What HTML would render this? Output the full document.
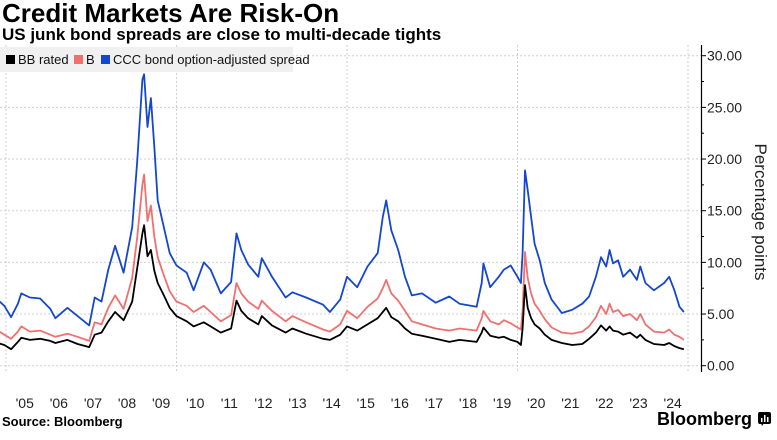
<!DOCTYPE html>
<html><head><meta charset="utf-8"><style>
body{margin:0;width:777px;height:435px;background:#fff;overflow:hidden;font-family:"Liberation Sans",sans-serif;}
</style></head><body>
<svg width="777" height="435" xmlns="http://www.w3.org/2000/svg">
<text x="2" y="22" font-size="26" font-weight="bold" fill="#000">Credit Markets Are Risk-On</text>
<text x="2" y="40" font-size="17" font-weight="bold" fill="#000">US junk bond spreads are close to multi-decade tights</text>
<g id="grid"></g>
<g id="series"></g>
<g id="axis"></g>
<g id="xaxis"></g>
<g>
<rect x="0" y="47" width="293" height="25" fill="#f0f0f0"/>
<rect x="6" y="55" width="9" height="9" fill="#000"/>
<text x="18" y="64" font-size="13" fill="#111">BB rated</text>
<rect x="74" y="55" width="9" height="9" fill="#f07070"/>
<text x="86" y="64" font-size="13" fill="#111">B</text>
<rect x="101" y="55" width="9" height="9" fill="#1446d0"/>
<text x="113" y="64" font-size="13" fill="#111">CCC bond option-adjusted spread</text>
</g>
<text transform="translate(755,212) rotate(90)" text-anchor="middle" font-size="17" fill="#222">Percentage points</text>
<text x="2" y="426" font-size="13" font-weight="bold" fill="#000">Source: Bloomberg</text>
<text x="752" y="425" text-anchor="end" font-size="18" font-weight="bold" fill="#000">Bloomberg</text>
<g><rect x="758" y="412" width="13" height="12" rx="2" fill="#000"/><path d="M762 426 l2 -3 h-3z" fill="#000"/><rect x="761" y="418" width="1.5" height="4" fill="#fff"/><rect x="764" y="415" width="1.5" height="7" fill="#fff"/><rect x="767" y="417" width="1.5" height="5" fill="#fff"/></g>
</svg>
<script>
const dates=[2004.75,2004.95,2005.15,2005.35,2005.45,2005.7,2006.0,2006.3,2006.45,2006.8,2007.1,2007.44,2007.6,2007.8,2008.0,2008.2,2008.45,2008.7,2008.85,2009.0,2009.05,2009.15,2009.25,2009.35,2009.45,2009.6,2009.8,2010.0,2010.3,2010.5,2010.8,2011.0,2011.3,2011.6,2011.76,2011.9,2012.1,2012.4,2012.5,2012.8,2013.2,2013.4,2013.8,2014.3,2014.5,2014.8,2015.0,2015.3,2015.6,2015.9,2016.05,2016.15,2016.3,2016.5,2016.7,2016.9,2017.2,2017.6,2018.0,2018.3,2018.8,2018.95,2019.0,2019.2,2019.45,2019.6,2019.8,2020.0,2020.1,2020.15,2020.22,2020.3,2020.4,2020.5,2020.65,2020.8,2021.0,2021.3,2021.6,2021.9,2022.1,2022.3,2022.45,2022.6,2022.7,2022.8,2022.95,2023.1,2023.3,2023.5,2023.6,2023.75,2024.0,2024.3,2024.45,2024.6,2024.75,2024.88];
const ccc=[6.4,5.8,4.7,6.0,7.0,6.6,6.5,5.5,4.6,5.6,4.8,3.9,6.6,6.2,9.3,11.6,9.0,13.4,19.9,27.7,28.2,23.1,25.9,21.2,16.0,13.8,10.9,9.7,9.0,7.3,10.0,9.3,7.0,8.1,12.8,11.2,9.8,8.6,10.4,8.6,6.6,7.1,6.6,5.9,5.2,6.4,8.6,7.6,9.6,10.9,14.4,16.0,13.1,11.2,8.6,6.8,7.0,6.1,6.7,6.0,5.7,8.0,9.9,7.6,8.6,9.3,9.7,8.6,8.0,10.9,18.9,17.0,14.4,11.8,10.2,8.0,6.4,5.1,5.4,6.0,6.7,8.6,10.5,9.6,11.2,9.9,10.2,8.6,9.3,8.3,9.6,8.0,7.3,8.0,8.6,7.3,5.7,5.2];
const bRated=[3.4,3.0,2.6,3.3,3.8,3.3,3.4,3.0,2.8,3.1,2.8,2.4,4.2,4.0,5.6,6.8,5.5,8.5,12.5,17.5,18.5,14.0,15.5,12.5,10.5,9.0,7.2,6.2,5.8,5.2,5.8,5.2,4.3,4.9,8.0,7.0,6.2,5.5,6.3,5.3,4.3,4.8,4.2,3.5,3.3,4.0,5.3,4.6,5.7,6.5,7.5,8.3,7.0,6.3,5.3,4.3,4.0,3.6,3.4,3.6,3.4,4.6,5.3,4.3,4.0,4.4,4.1,3.7,3.5,5.3,11.0,8.5,7.0,6.0,5.3,4.5,3.7,3.2,3.1,3.3,3.8,4.7,5.8,5.0,6.0,5.2,5.4,4.8,5.0,4.4,5.0,4.0,3.3,3.2,3.5,3.0,2.8,2.5];
const bbRated=[2.2,2.0,1.6,2.3,2.7,2.5,2.6,2.4,2.2,2.5,2.1,1.8,3.0,3.2,4.3,5.2,4.4,6.2,9.5,12.8,13.6,10.6,11.2,9.2,8.0,7.0,5.6,4.8,4.3,3.8,4.2,3.8,3.2,3.6,6.3,5.3,4.6,4.0,4.8,3.9,3.2,3.6,3.1,2.6,2.5,3.0,3.8,3.4,4.0,4.6,5.2,5.6,4.7,4.3,3.6,3.1,2.9,2.6,2.3,2.5,2.3,3.2,3.7,2.9,2.7,2.8,2.5,2.3,2.0,3.6,7.8,5.6,4.6,4.0,3.6,3.0,2.5,2.2,2.0,2.1,2.6,3.2,3.9,3.4,3.8,3.4,3.3,3.0,3.2,2.7,3.0,2.5,2.1,2.0,2.2,1.9,1.7,1.6];
const yTicks=[0,5,10,15,20,25,30];
const yTickLabels=["0.00","5.00","10.00","15.00","20.00","25.00","30.00"];
const xYears=[2005,2006,2007,2008,2009,2010,2011,2012,2013,2014,2015,2016,2017,2018,2019,2020,2021,2022,2023,2024];
const xLabels=["'05","'06","'07","'08","'09","'10","'11","'12","'13","'14","'15","'16","'17","'18","'19","'20","'21","'22","'23","'24"];
const NS="http://www.w3.org/2000/svg";
function xS(t){return 6+(t-2005)*34.1;}
function yS(v){return 365.7-v*10.333;}
function mk(tag,attrs,parent){const e=document.createElementNS(NS,tag);for(const k in attrs)e.setAttribute(k,attrs[k]);parent.appendChild(e);return e;}
const grid=document.getElementById('grid'),ax=document.getElementById('axis'),xa=document.getElementById('xaxis'),ser=document.getElementById('series');
yTicks.forEach((v,i)=>{
  const g=mk('line',{x1:0,x2:701,y1:yS(v),y2:yS(v),stroke:'#cfcfcf','stroke-dasharray':'2,2','stroke-width':1},grid);
  
  
  const t=mk('line',{x1:701,x2:706,y1:yS(v),y2:yS(v),stroke:'#000'},ax);
  
  
  const l=mk('text',{x:707,y:yS(v)+5,'font-size':14,fill:'#222'},ax);
  l.textContent=yTickLabels[i];
  
  
  if(v<30){const m=mk('line',{x1:701,x2:704,y1:yS(v+2.5),y2:yS(v+2.5),stroke:'#000'},ax);
  
  }
});
const axl=mk('line',{x1:701.5,x2:701.5,y1:45,y2:372,stroke:'#000','stroke-width':1.2},ax);


[2005,2010,2015,2020,2025].forEach(y=>{
  const g=mk('line',{x1:xS(y),x2:xS(y),y1:45,y2:372,stroke:'#cfcfcf','stroke-dasharray':'2,2'},grid);
  
  
});
xYears.forEach((y,i)=>{
  const t=mk('text',{x:xS(y+0.55),y:408,'font-size':14,fill:'#222','text-anchor':'middle'},xa);
  t.textContent=xLabels[i];
  
  
});
function line(vals,color,name){
  const d=vals.map((v,i)=>(i?'L':'M')+xS(dates[i]).toFixed(1)+' '+yS(v).toFixed(1)).join(' ');
  const p=mk('path',{d:d,fill:'none',stroke:color,'stroke-width':1.8,'stroke-linejoin':'round'},ser);
  
  
}
line(ccc,'#1446d0','ccc-line');
line(bRated,'#f07070','b-line');
line(bbRated,'#000','bb-line');
</script>
</body></html>
